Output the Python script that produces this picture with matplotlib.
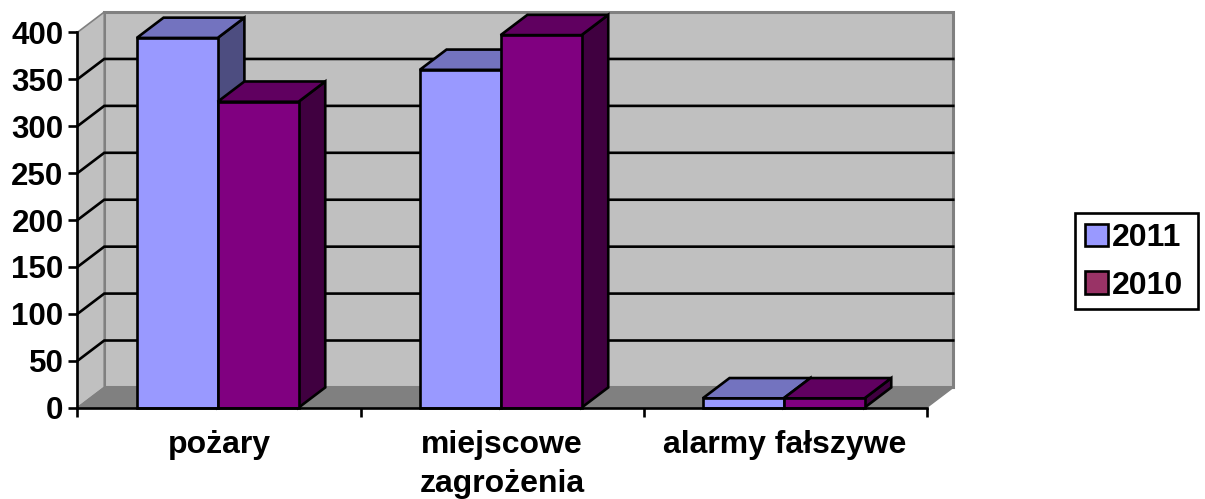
import matplotlib
matplotlib.use("Agg")
import matplotlib.pyplot as plt
from matplotlib.patches import Polygon, Patch, Rectangle

plt.rcParams['font.family'] = ['Liberation Sans', 'DejaVu Sans']
plt.rcParams['font.weight'] = 'bold'

categories = ["pożary", "miejscowe\nzagrożenia", "alarmy fałszywe"]
values_2011 = [394, 360, 10]
values_2010 = [326, 397, 10]
series_names = ["2011", "2010"]
y_ticks = [0, 50, 100, 150, 200, 250, 300, 350, 400]

W, H = 1205, 499
fig = plt.figure(figsize=(W / 100, H / 100), dpi=100)
ax = fig.add_axes([77.5 / W, 1 - 407.7 / H, 849 / W, 375.4 / H])
ax.set_xlim(0, 3)
ax.set_ylim(0, 400)

# depth of the fake 3d box, in data units
DX = 0.0945
DY = 21.6
BAR_W = 1 / 3.5
GAP = 0.2095
LW = 1.9


def poly(pts, fc, ec='black', lw=LW, z=3):
    ax.add_patch(Polygon(pts, closed=True, facecolor=fc, edgecolor=ec, linewidth=lw,
                         joinstyle='miter', clip_on=False, zorder=z))


def draw_bar(x, v, front, top, side):
    poly([(x + BAR_W, 0), (x + BAR_W + DX, DY), (x + BAR_W + DX, v + DY), (x + BAR_W, v)], side)
    poly([(x, v), (x + DX, v + DY), (x + BAR_W + DX, v + DY), (x + BAR_W, v)], top)
    poly([(x, 0), (x, v), (x + BAR_W, v), (x + BAR_W, 0)], front)


# walls and floor
poly([(DX, DY), (DX, 400 + DY), (3 + DX, 400 + DY), (3 + DX, DY)], '#C0C0C0', '#808080', 2.2, 1)
poly([(0, 0), (0, 400), (DX, 400 + DY), (DX, DY)], '#C0C0C0', '#808080', 1.2, 1)
poly([(0, 0), (DX, DY), (3 + DX, DY), (3, 0)], '#808080', '#808080', 1, 1)

# gridlines
for t in y_ticks[1:-1]:
    ax.plot([0, DX, 3 + DX], [t, t + DY, t + DY], color='black', lw=LW, clip_on=False, zorder=2,
            solid_joinstyle='miter')

for i in range(len(categories)):
    x = i + GAP
    draw_bar(x, values_2011[i], '#9999FF', '#7373BF', '#4D4D80')
    draw_bar(x + BAR_W, values_2010[i], '#800080', '#600060', '#400040')

for s in ['top', 'right']:
    ax.spines[s].set_visible(False)
for s in ['left', 'bottom']:
    ax.spines[s].set_linewidth(LW)
    ax.spines[s].set_zorder(4)

ax.patch.set_visible(False)
ax.set_yticks(y_ticks)
ax.set_xticks([0, 1, 2, 3])
ax.set_xticklabels([])
ax.set_xticks([0.5, 1.5, 2.5], minor=True)
ax.set_xticklabels(categories, minor=True, fontsize=23, linespacing=1.38)
ax.tick_params(axis='x', which='major', length=6.5, width=LW)
ax.tick_params(axis='x', which='minor', length=0, pad=16)
ax.tick_params(axis='y', length=6.5, width=LW, pad=3.5, labelsize=22.5)

# legend box drawn apart so its padding can differ from the entries
fig.add_artist(Rectangle((1075 / W, 1 - 309 / H), 123 / W, 96 / H, transform=fig.transFigure,
                         facecolor='white', edgecolor='black', linewidth=LW))
handles = [Patch(facecolor='#9999FF', edgecolor='black', linewidth=LW),
           Patch(facecolor='#993366', edgecolor='black', linewidth=LW)]
leg = fig.legend(handles, series_names, loc='center', bbox_to_anchor=(1134.5 / W, 1 - 262 / H),
                 fontsize=23, frameon=False,
                 handlelength=0.69, handleheight=0.7, handletextpad=0.15, labelspacing=0.55,
                 borderpad=0, borderaxespad=0)

fig.savefig("out.png", dpi=100)
